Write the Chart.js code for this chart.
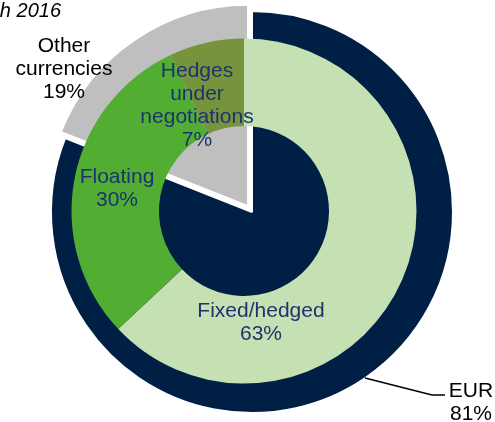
<!DOCTYPE html>
<html>
<head>
<meta charset="utf-8">
<script src="https://cdn.jsdelivr.net/npm/chart.js@4/dist/chart.umd.min.js"></script>
<style>
  body { margin: 0; background: #fff; }
  #wrap { position: relative; width: 495px; height: 422px; overflow: hidden; }
  #wrap canvas { position: absolute; left: 0; top: 0; }
</style>
</head>
<body>
<div id="wrap">
  <canvas id="currencypie" width="495" height="422"></canvas>
  <canvas id="rateringgraph" width="495" height="422"></canvas>
</div>
<script>
// currency split (outer pie) and interest rate split (green ring)
const currencyLabels = ['EUR', 'Other currencies'];
const currencyShares = [81, 19];
const rateLabels = ['Fixed/hedged', 'Floating', 'Hedges under negotiations'];
const rateShares = [63, 30, 7];
const dateText = 'h 2016';

const navy = '#001F45';
const grey = '#BFBFBF';
const textBlue = '#1C3370';

const currencypie = document.querySelector('#currencypie').getContext('2d');
new Chart(currencypie, {
  type: 'pie',
  data: {
    labels: currencyLabels,
    datasets: [{
      data: currencyShares,
      backgroundColor: [navy, grey],
      borderColor: '#fff',
      borderWidth: 2,
      offset: [0, 28]
    }]
  },
  options: {
    responsive: false,
    animation: false,
    radius: 201,
    layout: { padding: { left: 9, right: 0, top: 2, bottom: 0 } },
    plugins: { legend: { display: false }, tooltip: { enabled: false } }
  }
});

// label anchors: [centre x, first baseline]
const currencyPos = [[471, 397], [64, 52]];
const ratePos = [[261, 317], [117, 183], [197, 77]];

function drawBlock(ctx, name, value, x, y, color) {
  const lines = name.split(' ').concat([value + '%']);
  ctx.fillStyle = color;
  lines.forEach((line, i) => ctx.fillText(line, x, y + i * 23));
}

const labelsPlugin = {
  id: 'sliceLabels',
  afterDraw(chart) {
    const ctx = chart.ctx;
    ctx.save();
    ctx.textAlign = 'center';
    ctx.textBaseline = 'alphabetic';
    ctx.font = '21px "Liberation Sans", Arial, sans-serif';
    rateLabels.forEach((name, i) => {
      drawBlock(ctx, name, rateShares[i], ratePos[i][0], ratePos[i][1], textBlue);
    });
    currencyLabels.forEach((name, i) => {
      drawBlock(ctx, name, currencyShares[i], currencyPos[i][0], currencyPos[i][1], '#000');
    });

    // leader line to the EUR label
    ctx.strokeStyle = '#000';
    ctx.lineWidth = 1.5;
    ctx.beginPath();
    ctx.moveTo(365, 378);
    ctx.lineTo(432, 395);
    ctx.lineTo(445, 395);
    ctx.stroke();

    ctx.font = 'italic 20px "Liberation Sans", Arial, sans-serif';
    ctx.textAlign = 'right';
    ctx.fillStyle = '#000';
    ctx.fillText(dateText, 61, 17);
    ctx.restore();
  }
};

const rateringgraph = document.querySelector('#rateringgraph').getContext('2d');
new Chart(rateringgraph, {
  type: 'doughnut',
  data: {
    labels: rateLabels,
    datasets: [{
      data: rateShares,
      backgroundColor: ['#C5E0B3', '#52AE32', '#77933C'],
      borderWidth: 0
    }]
  },
  options: {
    responsive: false,
    animation: false,
    radius: 172.5,
    cutout: (85 / 172.5 * 100) + '%',
    layout: { padding: { left: 0, right: 7, top: 0, bottom: 0 } },
    plugins: { legend: { display: false }, tooltip: { enabled: false } }
  },
  plugins: [labelsPlugin]
});
</script>
</body>
</html>
